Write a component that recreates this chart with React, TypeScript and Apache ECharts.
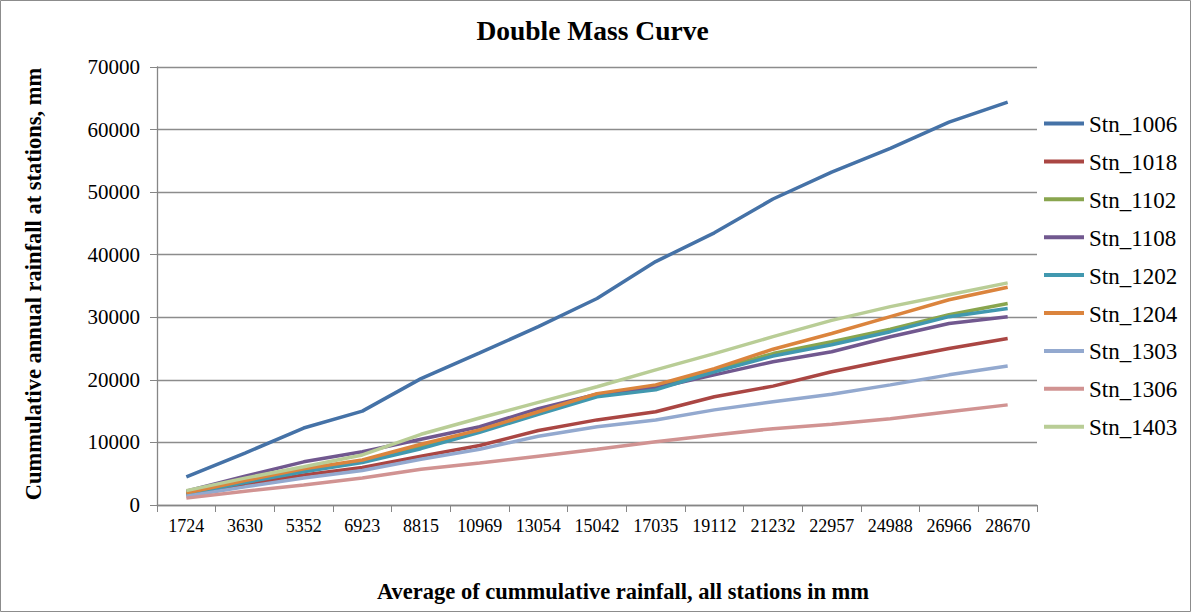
import React, { useEffect, useRef } from "react";
import * as echarts from "echarts";

const categories = ["1724", "3630", "5352", "6923", "8815", "10969", "13054", "15042", "17035", "19112", "21232", "22957", "24988", "26966", "28670"];

const stn1006 = [4500, 8300, 12300, 15000, 20200, 24300, 28500, 33000, 38900, 43500, 48900, 53200, 57000, 61200, 64400];
const stn1018 = [1600, 3300, 4800, 6000, 7800, 9500, 11900, 13600, 14900, 17300, 19000, 21300, 23200, 25000, 26600];
const stn1102 = [1900, 3700, 5500, 7000, 9300, 11800, 14700, 17500, 18900, 21600, 24200, 26100, 28100, 30400, 32200];
const stn1108 = [2200, 4600, 6900, 8500, 10500, 12500, 15400, 17700, 18700, 20800, 22900, 24500, 26900, 29000, 30100];
const stn1202 = [1700, 3600, 5300, 6800, 9000, 11600, 14500, 17300, 18400, 21300, 23800, 25600, 27700, 30100, 31400];
const stn1204 = [1900, 3900, 5800, 7200, 9700, 12000, 14900, 17800, 19200, 21800, 24900, 27400, 30100, 32800, 34800];
const stn1303 = [1400, 2900, 4300, 5500, 7300, 8900, 11000, 12500, 13600, 15200, 16500, 17700, 19200, 20800, 22200];
const stn1306 = [1100, 2200, 3200, 4300, 5700, 6700, 7800, 8900, 10100, 11200, 12200, 12900, 13800, 14900, 16000];
const stn1403 = [2300, 4300, 6100, 8000, 11300, 13900, 16400, 18900, 21600, 24200, 26900, 29500, 31700, 33600, 35500];

const seriesNames = ["Stn_1006", "Stn_1018", "Stn_1102", "Stn_1108", "Stn_1202", "Stn_1204", "Stn_1303", "Stn_1306", "Stn_1403"];
const seriesData = [stn1006, stn1018, stn1102, stn1108, stn1202, stn1204, stn1303, stn1306, stn1403];
const colors = ["#4572A7", "#AA4643", "#89A54E", "#71588F", "#4198AF", "#DB843D", "#93A9CF", "#D19392", "#B9CD96"];

const xAxisTitle = "Average of cummulative rainfall, all stations in mm";
const yAxisTitle = "Cummulative annual rainfall at stations, mm";

const FONT = "Liberation Serif";

export default function App() {
  const ref = useRef<HTMLDivElement>(null);
  useEffect(() => {
    if (!ref.current) return;
    const chart = echarts.init(ref.current, undefined, { renderer: "svg" });

    const legendItems: any[] = [];
    seriesNames.forEach((name, i) => {
      const cy = 123.5 + 37.9 * i;
      legendItems.push({
        type: "line",
        shape: { x1: 1044, y1: cy, x2: 1084, y2: cy },
        style: { stroke: colors[i], lineWidth: 4 },
        silent: true,
      });
      legendItems.push({
        type: "text",
        x: 1089,
        y: cy + 1,
        style: {
          text: name,
          fontFamily: FONT,
          fontSize: 23,
          fill: "#000",
          align: "left",
          verticalAlign: "middle",
        },
        silent: true,
      });
    });

    chart.setOption({
      animation: false,
      backgroundColor: "#ffffff",
      color: colors,
      textStyle: { fontFamily: FONT },
      title: {
        text: "Double Mass Curve",
        left: 587.5,
        textAlign: "center",
        top: 11,
        textStyle: { fontFamily: FONT, fontSize: 27.5, fontWeight: "bold", color: "#000" },
      },
      legend: { show: false, data: seriesNames },
      grid: { left: 157, top: 67, right: 155, bottom: 109, containLabel: false },
      xAxis: {
        type: "category",
        data: categories,
        boundaryGap: true,
        axisLine: { lineStyle: { color: "#868686", width: 1.3 } },
        axisTick: { show: true, length: 7, alignWithLabel: false, lineStyle: { color: "#868686" } },
        axisLabel: { interval: 0, fontFamily: FONT, fontSize: 18, color: "#000", margin: 12 },
      },
      yAxis: {
        type: "value",
        min: 0,
        max: 70000,
        interval: 10000,
        axisLine: { show: true, lineStyle: { color: "#868686", width: 1.3 } },
        axisTick: { show: true, length: 7, inside: false, lineStyle: { color: "#868686" } },
        axisLabel: { fontFamily: FONT, fontSize: 21, color: "#000", margin: 17, formatter: (v: number) => String(v) },
        splitLine: { lineStyle: { color: "#8c8c8c", width: 1.3 } },
      },
      graphic: [
        {
          type: "rect",
          shape: { x: 0.5, y: 0.5, width: 1190, height: 611 },
          style: { fill: "none", stroke: "#8c8c8c", lineWidth: 1 },
          silent: true,
        },
        {
          type: "text",
          x: 623,
          y: 591,
          style: {
            text: xAxisTitle,
            fontFamily: FONT,
            fontSize: 22.5,
            fontWeight: "bold",
            fill: "#000",
            align: "center",
            verticalAlign: "middle",
          },
          silent: true,
        },
        {
          type: "text",
          x: 33,
          y: 284,
          rotation: Math.PI / 2,
          style: {
            text: yAxisTitle,
            fontFamily: FONT,
            fontSize: 22.5,
            fontWeight: "bold",
            fill: "#000",
            align: "center",
            verticalAlign: "middle",
          },
          silent: true,
        },
        ...legendItems,
      ],
      series: seriesNames.map((name, i) => ({
        name,
        type: "line",
        data: seriesData[i],
        showSymbol: false,
        symbol: "none",
        lineStyle: { width: 3.5, color: colors[i] },
        itemStyle: { color: colors[i] },
      })),
    });
    return () => chart.dispose();
  }, []);
  return <div ref={ref} style={{ position: "fixed", left: 0, top: 0, width: 1192, height: 614 }} />;
}
